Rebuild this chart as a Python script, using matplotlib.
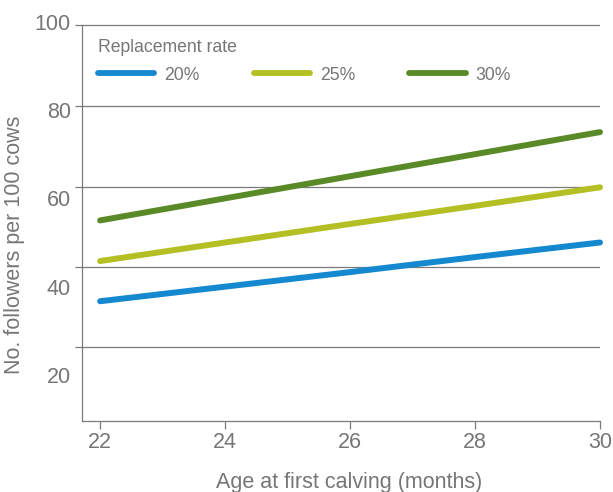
import matplotlib
matplotlib.use("Agg")
import matplotlib.pyplot as plt

# data
age = [22, 24, 26, 28, 30]
rate_labels = ["20%", "25%", "30%"]
followers_20 = [36.7, 40.0, 43.3, 46.7, 50.0]
followers_25 = [45.8, 50.0, 54.2, 58.3, 62.5]
followers_30 = [55.0, 60.0, 65.0, 70.0, 75.0]
y_tick_values = [100, 80, 60, 40, 20]
x_tick_values = [22, 24, 26, 28, 30]

# the gridlines in the original do not sit on the labelled values
grid_levels = [99.25, 80.9, 62.65, 44.5, 26.3]

colors = ["#1489cf", "#b3bf22", "#5a8a28"]
text_color = "#767676"
line_color = "#7a7a7a"

plt.rcParams["font.family"] = ["Liberation Sans", "DejaVu Sans"]

fig = plt.figure(figsize=(6.13, 4.92), dpi=100)
ax = fig.add_axes([82 / 613, 71 / 492, 518 / 613, 399.3 / 492])

series = [followers_20, followers_25, followers_30]
for vals, c, lab in zip(series, colors, rate_labels):
    ax.plot(age, vals, color=c, lw=4.3, solid_capstyle="round",
            label=lab, clip_on=False, zorder=3)

ax.set_xlim(21.71, 30.0)
ax.set_ylim(9.58, 100)

ax.set_xticks(x_tick_values)
ax.set_xticklabels([str(v) for v in x_tick_values])
ax.set_yticks(y_tick_values)
ax.set_yticklabels([str(v) for v in y_tick_values])
ax.set_yticks(grid_levels, minor=True)
ax.grid(which="minor", axis="y", color=line_color, lw=0.9)

ax.tick_params(axis="y", which="major", length=0, pad=8, labelsize=15.5,
               labelcolor=text_color)
ax.tick_params(axis="y", which="minor", length=5, width=0.9, color=line_color)
ax.tick_params(axis="x", length=6, width=0.9, color=line_color, pad=2,
               labelsize=15.5, labelcolor=text_color)

for side in ["top", "right"]:
    ax.spines[side].set_visible(False)
for side in ["left", "bottom"]:
    ax.spines[side].set_color(line_color)
    ax.spines[side].set_linewidth(0.9)
ax.spines["left"].set_bounds(9.58, grid_levels[0])

ax.set_xlabel("Age at first calving (months)", fontsize=15.5, color=text_color)
ax.set_ylabel("No. followers per 100 cows", fontsize=15.5, color=text_color)
ax.xaxis.set_label_coords(0.515, -0.127)
ax.yaxis.set_label_coords(-0.11, 0.44)

leg = ax.legend(title="Replacement rate", ncol=3, frameon=False,
                loc="upper left", bbox_to_anchor=(98 / 613, 1 - 39 / 492),
                bbox_transform=fig.transFigure, borderpad=0, borderaxespad=0,
                fontsize=12.7, title_fontsize=12.7, handlelength=3.2,
                handletextpad=0.55, columnspacing=3.07, labelspacing=0.6,
                alignment="left")
for t in leg.get_texts():
    t.set_color(text_color)
leg.get_title().set_color(text_color)
for h in leg.get_lines():
    h.set_linewidth(4.2)
    h.set_solid_capstyle("round")

fig.savefig("out.png", dpi=100)
